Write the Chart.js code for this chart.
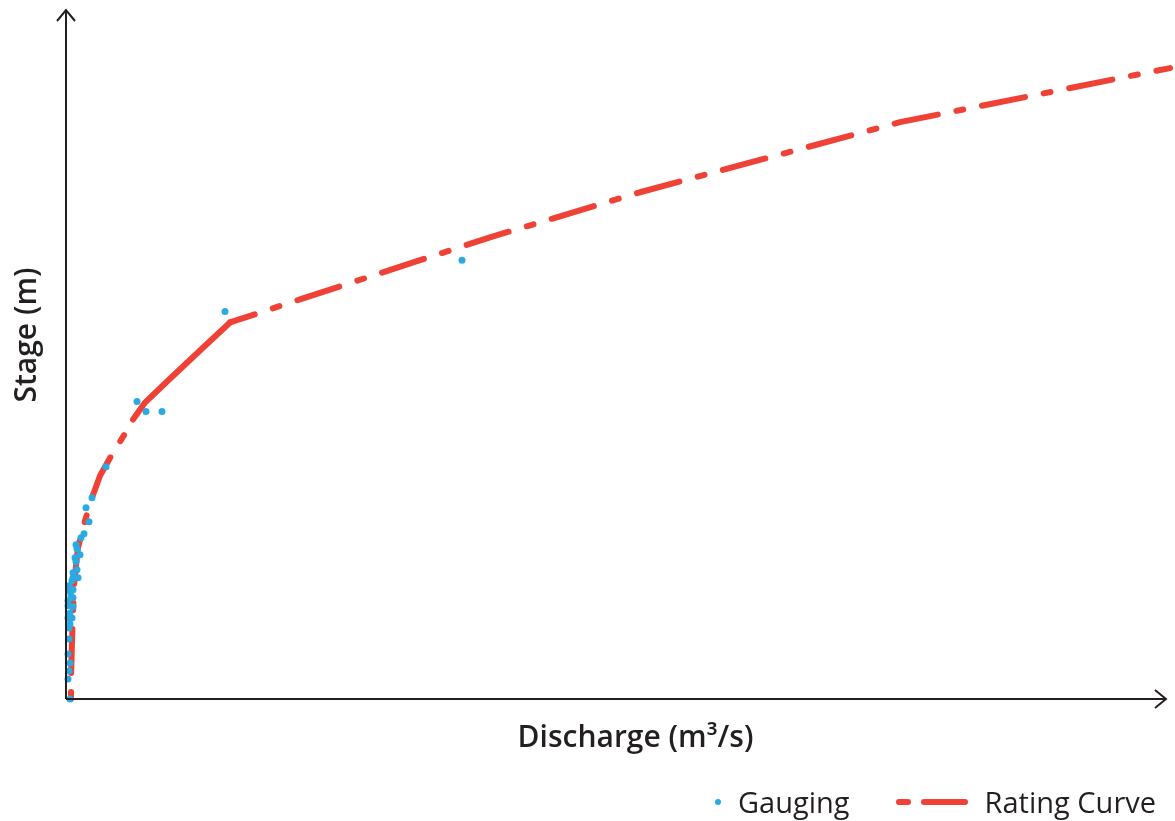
<!DOCTYPE html>
<html>
<head>
<meta charset="utf-8">
<title>Rating Curve</title>
<script src="https://cdn.jsdelivr.net/npm/chart.js@4/dist/chart.umd.min.js"></script>
<style>
    html, body { margin: 0; padding: 0; background: #fff; }
    .wrap { position: relative; width: 1175px; height: 821px; }
    .legend {
        position: absolute; top: 782px; left: 710px;
        display: flex; align-items: center;
        font-family: "Open Sans", sans-serif; font-size: 29px; color: #231f20;
    }
    .legend .item { display: flex; align-items: center; }
    .legend .dot { width: 6px; height: 6px; border-radius: 50%; background: #29abe2; margin: 0 17px 0 5px; }
    .legend .dash { height: 6px; border-radius: 3px; background: #ef4136; }
    .legend .short { width: 15px; margin: 0 10px 0 46px; }
    .legend .long { width: 47px; margin-right: 17px; }
</style>
</head>
<body>
<div class="wrap">
    <canvas id="chart" width="1175" height="821"></canvas>
    <div class="legend">
        <div class="item"><span class="dot"></span><span>Gauging</span></div>
        <div class="item"><span class="dash short"></span><span class="dash long"></span><span>Rating Curve</span></div>
    </div>
</div>
<script>
// Gauging measurements (discharge m3/s, stage m)
const gaugeQ = [396, 159, 71, 80, 96, 40, 26, 20, 23, 18, 15, 10, 11, 14, 9, 10, 11, 7, 7, 12, 6, 3, 7, 3, 5, 2, 7, 2, 7, 4, 2, 6, 4, 3, 3, 2, 4, 3, 2, 4];
const gaugeH = [4.38, 3.87, 2.97, 2.87, 2.87, 2.32, 2.01, 1.91, 1.77, 1.65, 1.61, 1.54, 1.50, 1.44, 1.41, 1.37, 1.29, 1.26, 1.21, 1.21, 1.18, 1.13, 1.09, 1.08, 1.03, 0.98, 1.01, 0.93, 0.92, 0.86, 0.81, 0.81, 0.75, 0.71, 0.60, 0.45, 0.36, 0.28, 0.20, 0.00];

// Rating curve
const ratingQ = [5, 5, 6, 7, 8, 10, 12, 15, 19, 26, 34, 47, 61, 67, 79, 101, 134, 164, 234, 424, 574, 834, 1104];
const ratingH = [0.00, 0.18, 0.58, 0.85, 1.13, 1.33, 1.51, 1.63, 1.78, 2.01, 2.23, 2.46, 2.68, 2.79, 2.96, 3.17, 3.48, 3.76, 3.99, 4.61, 5.06, 5.76, 6.30];

const axisMax = { x: 1100, y: 6.88 };
const ink = '#231f20';

// axis lines ending in open arrowheads
const arrowAxes = {
    id: 'arrowAxes',
    afterDatasetsDraw(chart) {
        const { ctx, chartArea: a } = chart;
        ctx.save();
        ctx.strokeStyle = ink;
        ctx.lineWidth = 2;
        ctx.beginPath();
        ctx.moveTo(a.left, a.bottom);
        ctx.lineTo(a.right, a.bottom);
        ctx.moveTo(a.left, a.bottom);
        ctx.lineTo(a.left, a.top);
        ctx.stroke();
        ctx.beginPath();
        ctx.moveTo(a.right - 11, a.bottom - 9);
        ctx.lineTo(a.right, a.bottom);
        ctx.lineTo(a.right - 11, a.bottom + 9);
        ctx.moveTo(a.left - 9, a.top + 11);
        ctx.lineTo(a.left, a.top);
        ctx.lineTo(a.left + 9, a.top + 11);
        ctx.stroke();
        ctx.restore();
    }
};

const dashed = [7, 19, 44, 19];
const titleFont = { family: 'Open Sans', size: 30, weight: 600, lineHeight: 1.2 };

new Chart(document.getElementById('chart'), {
    type: 'scatter',
    data: {
        datasets: [
            {
                label: 'Gauging',
                data: gaugeQ.map((q, i) => ({ x: q, y: gaugeH[i] })),
                backgroundColor: '#29abe2',
                borderWidth: 0,
                pointRadius: 3.5,
                clip: false
            },
            {
                label: 'Rating Curve',
                data: ratingQ.map((q, i) => ({ x: q, y: ratingH[i] })),
                showLine: true,
                borderColor: '#ef4136',
                borderWidth: 6,
                borderCapStyle: 'round',
                borderJoinStyle: 'round',
                borderDash: dashed,
                pointRadius: 0,
                clip: false,
                segment: {
                    // gauged middle reach drawn solid, dash restarts after the break
                    borderDash: ctx => (ctx.p0DataIndex >= 13 && ctx.p0DataIndex < 17) ? [] : dashed,
                    borderDashOffset: ctx => ctx.p0DataIndex >= 17 ? 44 : 0
                }
            }
        ]
    },
    options: {
        responsive: false,
        animation: false,
        layout: { padding: { top: 10, right: 9, bottom: 65, left: 0 } },
        plugins: {
            legend: { display: false },
            tooltip: { enabled: false }
        },
        scales: {
            x: {
                min: 0,
                max: axisMax.x,
                grid: { display: false },
                border: { display: false },
                ticks: { display: false },
                title: {
                    display: true,
                    text: '     Discharge (m³/s)',
                    color: ink,
                    font: titleFont,
                    padding: { top: 13, bottom: 0 }
                }
            },
            y: {
                min: 0,
                max: axisMax.y,
                grid: { display: false },
                border: { display: false },
                ticks: { display: false },
                title: {
                    display: true,
                    text: '     Stage (m)',
                    color: ink,
                    font: titleFont,
                    padding: { top: 9, bottom: 13 }
                }
            }
        }
    },
    plugins: [arrowAxes]
});
</script>
</body>
</html>
